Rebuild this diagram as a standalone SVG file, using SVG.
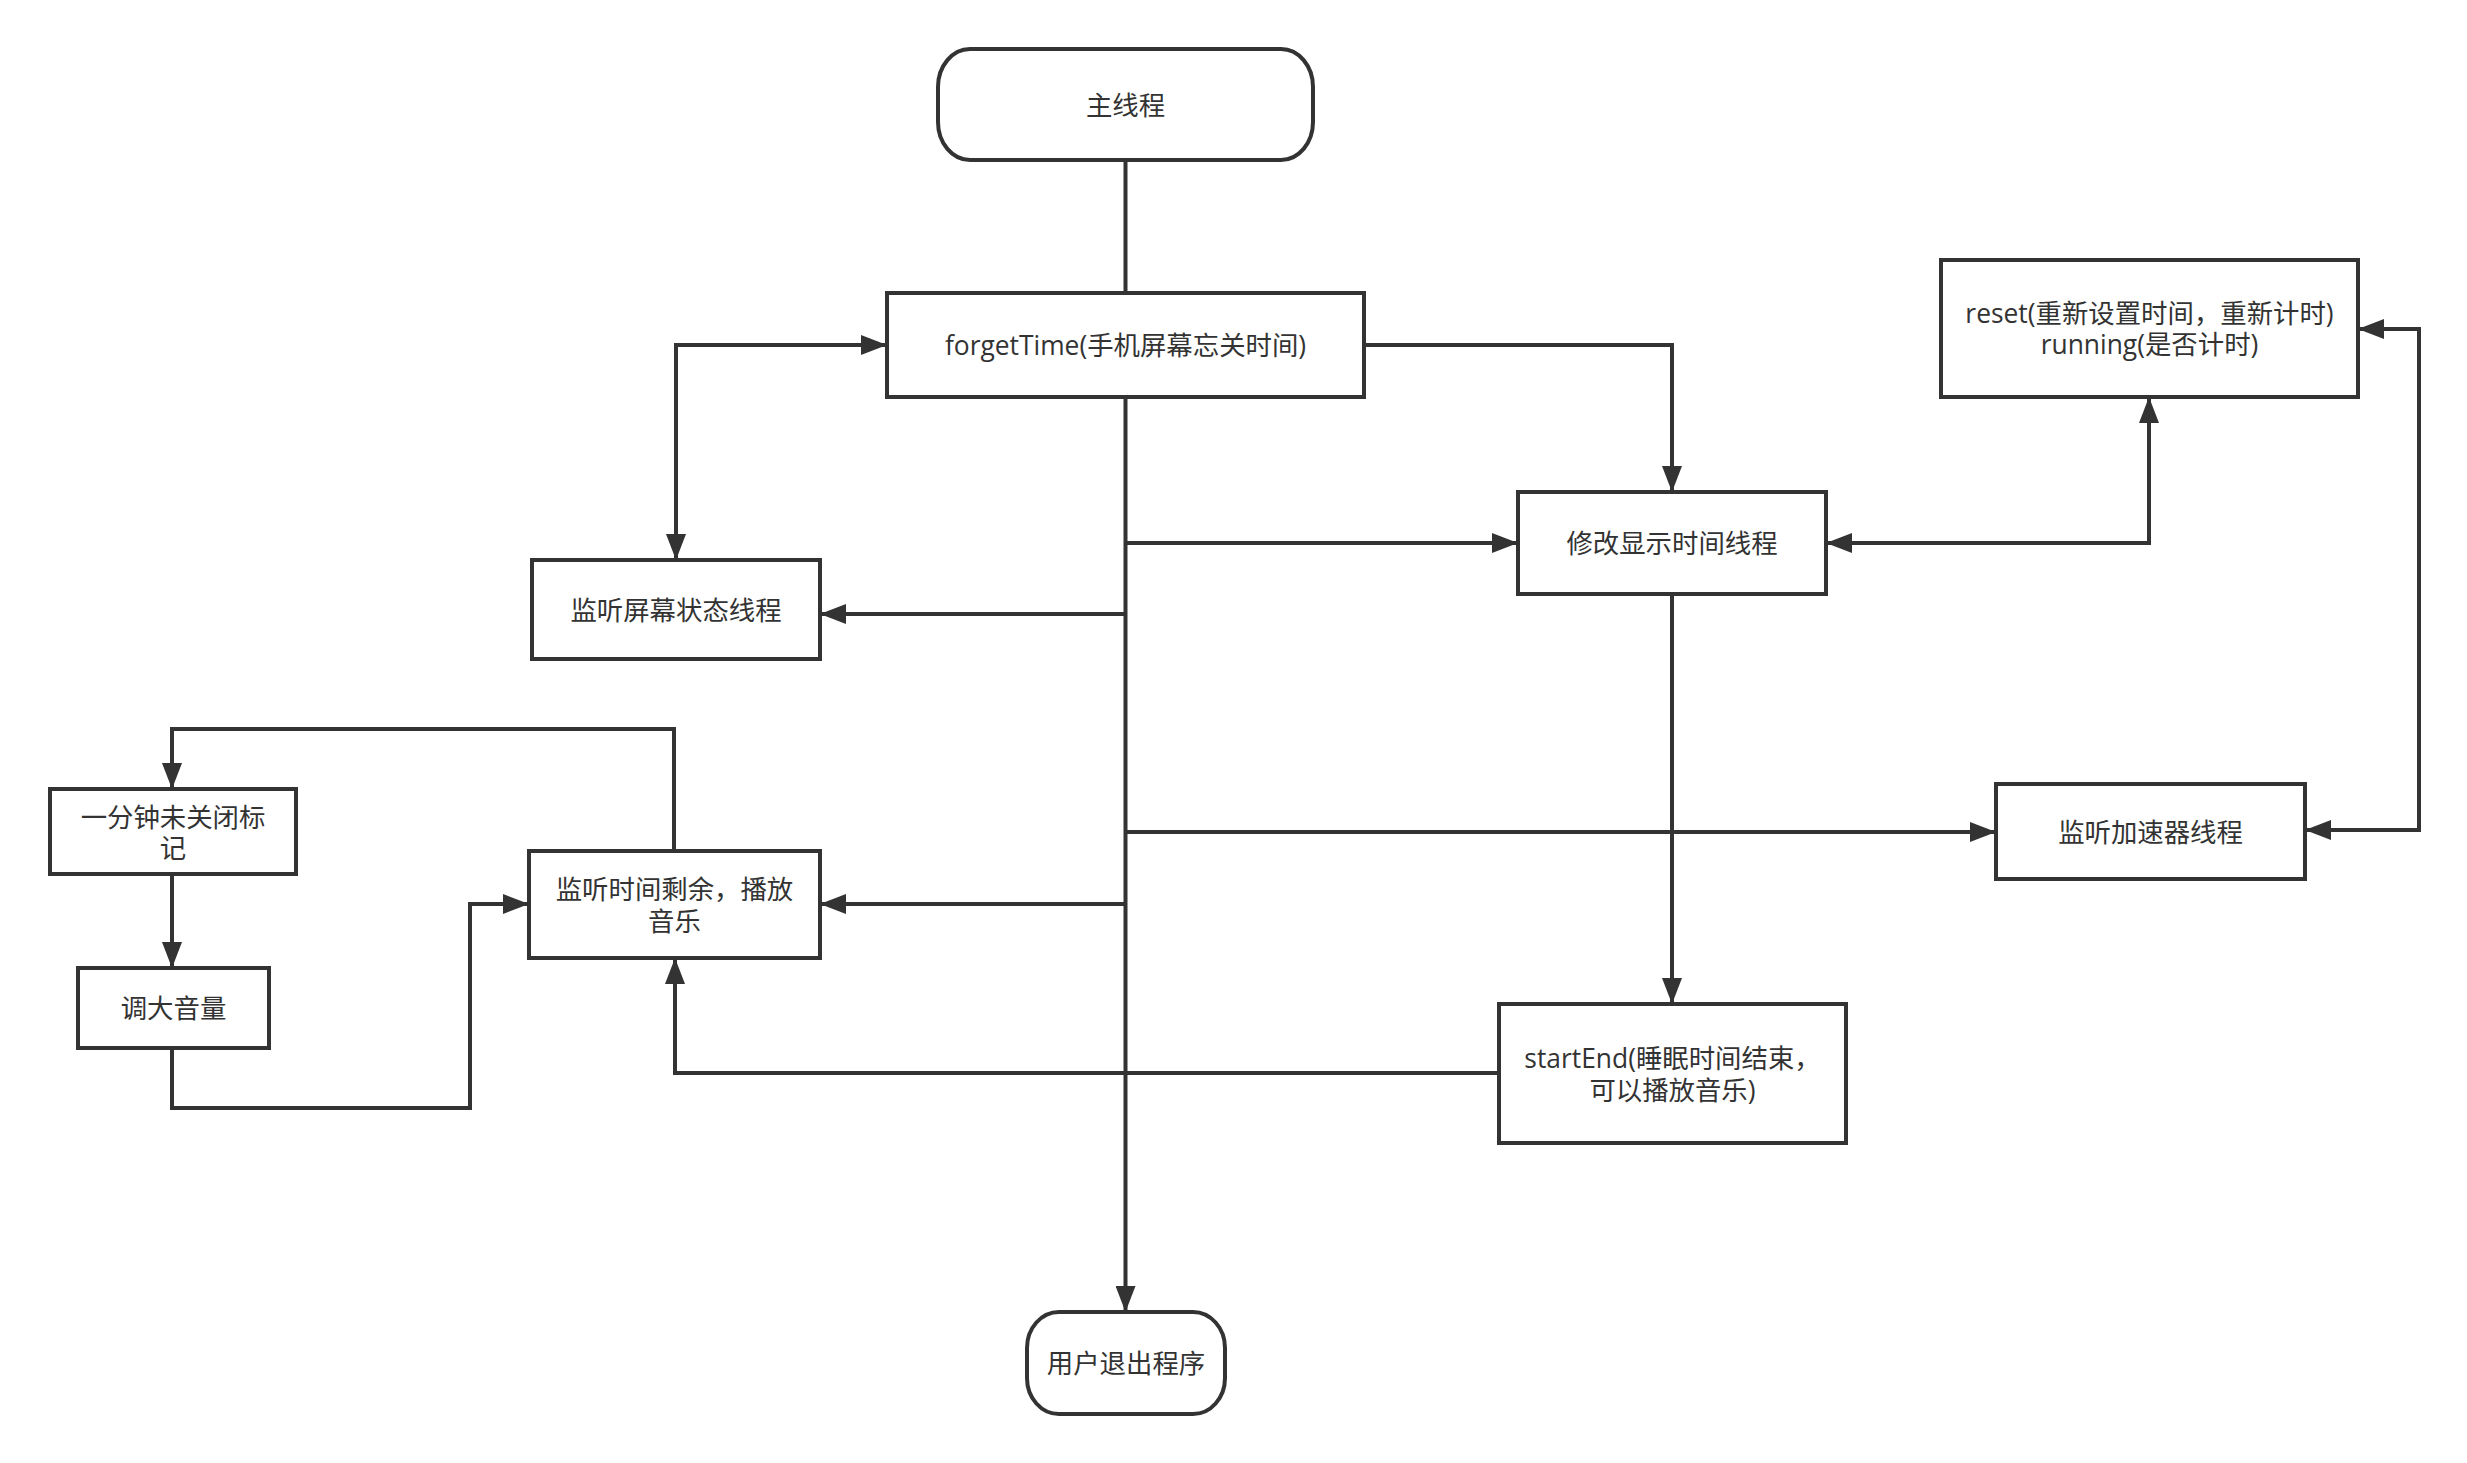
<svg xmlns="http://www.w3.org/2000/svg" width="2467" height="1463" viewBox="0 0 2467 1463">
<style>
.box{fill:#fff;stroke:#333;stroke-width:4}
.ln{fill:none;stroke:#333;stroke-width:4}
.t{font-family:"Open Sans","Noto Sans CJK SC",sans-serif;font-size:26.4px;fill:#333;text-anchor:middle;dominant-baseline:central}
</style>
<defs>
<marker id="a" viewBox="0 0 26 20" refX="26" refY="10" markerWidth="26" markerHeight="20" markerUnits="userSpaceOnUse" orient="auto-start-reverse">
<path d="M0,0 L26,10 L0,20 Z" fill="#333"/>
</marker>
</defs>
<rect width="2467" height="1463" fill="#fff"/>
<g id="connectors">
<path class="ln" d="M1125.5,160 V293"/>
<path class="ln" d="M1125.5,397 V1312" marker-end="url(#a)"/>
<path class="ln" d="M676,560 V345 H887" marker-start="url(#a)" marker-end="url(#a)"/>
<path class="ln" d="M1364,345 H1672 V492" marker-end="url(#a)"/>
<path class="ln" d="M1125.5,543 H1518" marker-end="url(#a)"/>
<path class="ln" d="M1125.5,614 H820" marker-end="url(#a)"/>
<path class="ln" d="M1826,543 H2149 V397" marker-start="url(#a)" marker-end="url(#a)"/>
<path class="ln" d="M1125.5,832 H1996" marker-end="url(#a)"/>
<path class="ln" d="M2358,329 H2419 V830 H2305" marker-start="url(#a)" marker-end="url(#a)"/>
<path class="ln" d="M1672,594 V1004" marker-end="url(#a)"/>
<path class="ln" d="M1499,1073 H675 V958" marker-end="url(#a)"/>
<path class="ln" d="M1125.5,904 H820" marker-end="url(#a)"/>
<path class="ln" d="M674,851 V729 H172 V789" marker-end="url(#a)"/>
<path class="ln" d="M172,874 V968" marker-end="url(#a)"/>
<path class="ln" d="M172,1048 V1108 H470 V904 H529" marker-end="url(#a)"/>
</g>
<g id="main">
<path class="box" d="M970,49 H1281 A32,38 0 0 1 1313,87 V122 A32,38 0 0 1 1281,160 H970 A32,38 0 0 1 938,122 V87 A32,38 0 0 1 970,49 Z"/>
<text class="t" x="1125.5" y="104.5">主线程</text>
</g>
<g id="forgetTime">
<rect class="box" x="887" y="293" width="477" height="104"/>
<text class="t" x="1125.5" y="345">forgetTime(手机屏幕忘关时间)</text>
</g>
<g id="screenThread">
<rect class="box" x="532" y="560" width="288" height="99"/>
<text class="t" x="676" y="609.5">监听屏幕状态线程</text>
</g>
<g id="displayThread">
<rect class="box" x="1518" y="492" width="308" height="102"/>
<text class="t" x="1672" y="543">修改显示时间线程</text>
</g>
<g id="reset">
<rect class="box" x="1941" y="260" width="417" height="137"/>
<text class="t"><tspan x="2149.5" y="313">reset(重新设置时间，重新计时)</tspan><tspan x="2149.5" y="344">running(是否计时)</tspan></text>
</g>
<g id="accelThread">
<rect class="box" x="1996" y="784" width="309" height="95"/>
<text class="t" x="2150.5" y="831.5">监听加速器线程</text>
</g>
<g id="startEnd">
<rect class="box" x="1499" y="1004" width="347" height="139"/>
<text class="t"><tspan x="1672.5" y="1058">startEnd(睡眠时间结束，</tspan><tspan x="1672.5" y="1090">可以播放音乐)</tspan></text>
</g>
<g id="remainThread">
<rect class="box" x="529" y="851" width="291" height="107"/>
<text class="t"><tspan x="674.5" y="889">监听时间剩余，播放</tspan><tspan x="674.5" y="921">音乐</tspan></text>
</g>
<g id="oneMinute">
<rect class="box" x="50" y="789" width="246" height="85"/>
<text class="t"><tspan x="173" y="817">一分钟未关闭标</tspan><tspan x="173" y="848">记</tspan></text>
</g>
<g id="volume">
<rect class="box" x="78" y="968" width="191" height="80"/>
<text class="t" x="173.5" y="1008">调大音量</text>
</g>
<g id="exit">
<path class="box" d="M1059,1312 H1193 A32,36 0 0 1 1225,1348 V1378 A32,36 0 0 1 1193,1414 H1059 A32,36 0 0 1 1027,1378 V1348 A32,36 0 0 1 1059,1312 Z"/>
<text class="t" x="1126" y="1363">用户退出程序</text>
</g>
</svg>
